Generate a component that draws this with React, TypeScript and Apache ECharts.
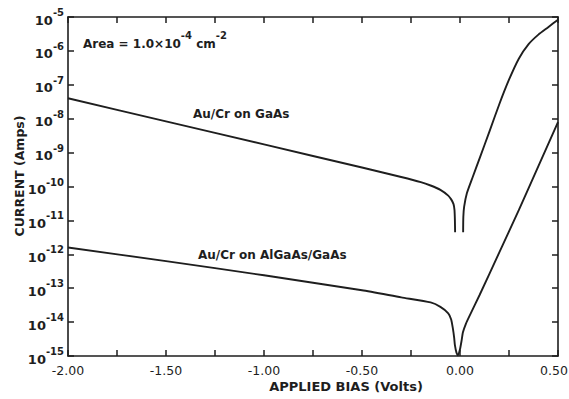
import React, { useEffect, useRef } from "react";
import * as echarts from "echarts";

// Au/Cr on GaAs, reverse branch (bias in volts, current in amps)
const gaasReverseBias = [-2.0, -1.5, -1.0, -0.5, -0.3, -0.2, -0.15, -0.1, -0.06, -0.045, -0.033, -0.028, -0.026, -0.025];
const gaasReverseCurrent = [4.0e-8, 8.32e-9, 1.74e-9, 3.63e-10, 1.91e-10, 1.35e-10, 1.07e-10, 7.94e-11, 5.37e-11, 4.17e-11, 3.02e-11, 2.0e-11, 1.0e-11, 4.47e-12];

// Au/Cr on GaAs, forward branch
const gaasForwardBias = [0.016, 0.017, 0.021, 0.035, 0.065, 0.1, 0.15, 0.2, 0.25, 0.3, 0.35, 0.4, 0.45, 0.5];
const gaasForwardCurrent = [4.47e-12, 1.26e-11, 2.51e-11, 6.31e-11, 1.91e-10, 6.76e-10, 4.17e-9, 2.63e-8, 1.41e-7, 5.89e-7, 1.58e-6, 3.02e-6, 5.01e-6, 8.32e-6];

// Au/Cr on AlGaAs/GaAs
const algaasBias = [-2.0, -1.5, -1.0, -0.5, -0.3, -0.15, -0.1, -0.06, -0.045, -0.036, -0.03, -0.026, -0.018, -0.01, 0.0, 0.008, 0.015, 0.03, 0.05, 0.1, 0.2, 0.3, 0.4, 0.5];
const algaasCurrent = [1.58e-12, 6.31e-13, 2.4e-13, 8.71e-14, 5.37e-14, 3.8e-14, 2.82e-14, 1.82e-14, 1.2e-14, 6.31e-15, 3.55e-15, 2.09e-15, 1.26e-15, 1.05e-15, 1.58e-15, 2.82e-15, 5.01e-15, 8.91e-15, 1.58e-14, 6.31e-14, 1.12e-12, 2.0e-11, 3.98e-10, 7.94e-9];

const xMin = -2.0;
const xMax = 0.5;
const yMin = 1e-15;
const yMax = 1e-5;

const labelGaAs = "Au/Cr on GaAs";
const labelAlGaAs = "Au/Cr on AlGaAs/GaAs";
const xTitle = "APPLIED BIAS (Volts)";
const yTitle = "CURRENT (Amps)";

const FONT = "DejaVu Sans";
const INK = "#1e1e1e";

function pairs(xs: number[], ys: number[]) {
  return xs.map((x, i) => [x, ys[i]]);
}

export default function App() {
  const ref = useRef<HTMLDivElement>(null);
  useEffect(() => {
    if (!ref.current) return;
    const chart = echarts.init(ref.current, undefined, { renderer: "svg" });
    const axisLine = { show: true, onZero: false, lineStyle: { color: INK, width: 1.6 } };
    const tickStyle = { color: INK, width: 1.5 };
    const xCommon = {
      type: "value",
      min: xMin,
      max: xMax,
      interval: 0.5,
      axisLine,
      axisTick: { show: true, inside: true, length: 6, lineStyle: tickStyle },
      minorTick: { show: true, splitNumber: 2, length: 6, lineStyle: tickStyle },
      splitLine: { show: false },
      minorSplitLine: { show: false },
    };
    const yCommon = {
      type: "log",
      logBase: 10,
      min: yMin,
      max: yMax,
      interval: 1,
      axisLine,
      axisTick: { show: true, inside: true, length: 6, lineStyle: tickStyle },
      splitLine: { show: false },
      minorTick: { show: false },
      minorSplitLine: { show: false },
    };
    const line = { color: INK, width: 1.9 };
    const sup = { fontFamily: FONT, fontSize: 10, fontWeight: "bold", fill: INK, color: INK, lineHeight: 19, verticalAlign: "top" };
    const base = (size: number) => ({ fontFamily: FONT, fontSize: size, fontWeight: "bold", fill: INK, color: INK, lineHeight: 19, verticalAlign: "bottom" });
    const tickText = { fontFamily: FONT, fontSize: 12.5, fontWeight: "normal", color: INK };
    chart.setOption({
      animation: false,
      backgroundColor: "#ffffff",
      grid: { left: 68, right: 11, top: 17, bottom: 43, containLabel: false, outerBoundsMode: "none" },
      xAxis: [
        {
          ...xCommon,
          position: "bottom",
          axisLabel: {
            show: true,
            margin: 8,
            ...tickText,
            formatter: (v: number) => (Math.abs(v - xMax) < 1e-9 ? `{m|${v.toFixed(2)}}` : `{t|${v.toFixed(2)}}`),
            rich: { t: tickText, m: { ...tickText, padding: [0, 8, 0, 0] } },
          },
        },
        { ...xCommon, position: "top", axisLabel: { show: false } },
      ],
      yAxis: [
        {
          ...yCommon,
          position: "left",
          axisLabel: {
            show: true,
            margin: 4,
            color: INK,
            fontFamily: FONT,
            formatter: (v: number) => `{b|10}{e|${Math.round(Math.log10(v))}}`,
            rich: { b: base(13), e: sup },
          },
        },
        { ...yCommon, position: "right", axisLabel: { show: false } },
      ],
      series: [
        {
          type: "line",
          data: pairs(gaasReverseBias, gaasReverseCurrent),
          showSymbol: false,
          smooth: 0.2,
          lineStyle: line,
        },
        {
          type: "line",
          data: pairs(gaasForwardBias, gaasForwardCurrent),
          showSymbol: false,
          smooth: 0.2,
          lineStyle: line,
        },
        {
          type: "line",
          data: pairs(algaasBias, algaasCurrent),
          showSymbol: false,
          smooth: 0.2,
          lineStyle: line,
        },
      ],
      graphic: [
        {
          type: "text",
          x: 83,
          y: 40,
          style: {
            text: "{a|Area = 1.0×10}{e|-4}{a| cm}{e|-2}",
            fill: INK,
            verticalAlign: "middle",
            rich: { a: base(12), e: sup },
          },
        },
        {
          type: "text",
          x: 193,
          y: 114,
          style: { text: labelGaAs, fontFamily: FONT, fontSize: 12, fontWeight: "bold", fill: INK, verticalAlign: "middle" },
        },
        {
          type: "text",
          x: 198,
          y: 255,
          style: { text: labelAlGaAs, fontFamily: FONT, fontSize: 12, fontWeight: "bold", fill: INK, verticalAlign: "middle" },
        },
        {
          type: "text",
          x: 346,
          y: 386,
          style: { text: xTitle, fontFamily: FONT, fontSize: 13, fontWeight: "bold", fill: INK, align: "center", verticalAlign: "middle" },
        },
        {
          type: "text",
          x: 19,
          y: 176,
          rotation: Math.PI / 2,
          style: { text: yTitle, fontFamily: FONT, fontSize: 12.5, fontWeight: "bold", fill: INK, align: "center", verticalAlign: "middle" },
        },
      ],
    });
    return () => chart.dispose();
  }, []);
  return <div ref={ref} style={{ width: 569, height: 399, position: "absolute", left: 0, top: 0 }} />;
}
